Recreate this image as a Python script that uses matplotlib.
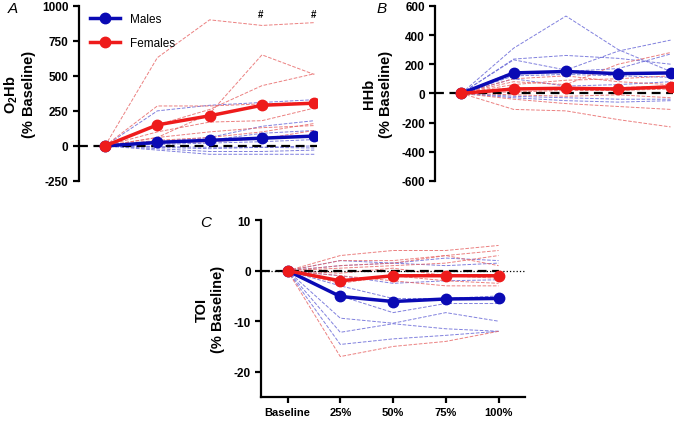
import matplotlib.pyplot as plt
import numpy as np

plt.rcParams['font.family'] = ['Liberation Sans', 'DejaVu Sans']
plt.rcParams['font.weight'] = 'bold'
plt.rcParams['axes.unicode_minus'] = False
plt.rcParams['mathtext.fontset'] = 'custom'
plt.rcParams['mathtext.bf'] = 'Liberation Sans:bold'

stages = ['Baseline', '25%', '50%', '75%', '100%']

# O2Hb (% baseline)
o2hb_male_mean = [0, 25, 40, 55, 70]
o2hb_female_mean = [0, 150, 215, 290, 305]
o2hb_male_ind = [
    [0, 250, 290, 310, 330],
    [0, 30, 60, 140, 180],
    [0, 20, 40, 90, 110],
    [0, 10, 20, 30, 45],
    [0, -5, -10, -10, -15],
    [0, -10, -20, -10, 0],
    [0, -20, -40, -40, -30],
    [0, -30, -60, -60, -60],
]
o2hb_female_ind = [
    [0, 630, 900, 860, 880],
    [0, 60, 230, 650, 510],
    [0, 150, 260, 430, 515],
    [0, 285, 285, 300, 310],
    [0, 100, 170, 180, 270],
    [0, 60, 100, 130, 145],
    [0, 40, 60, 100, 160],
    [0, 20, 30, 50, 110],
]

# HHb (% baseline)
hhb_male_mean = [0, 140, 150, 135, 140]
hhb_female_mean = [0, 30, 35, 30, 45]
hhb_male_ind = [
    [0, 310, 530, 300, 150],
    [0, 235, 260, 240, 200],
    [0, 230, 160, 290, 365],
    [0, 150, 150, 170, 270],
    [0, 120, 130, 120, 110],
    [0, 100, 50, 60, 80],
    [0, -20, -30, -40, -40],
    [0, -30, -50, -60, -50],
]
hhb_female_ind = [
    [0, -110, -120, -180, -230],
    [0, -40, -70, -90, -110],
    [0, 80, 60, 200, 280],
    [0, 60, 90, 100, 120],
    [0, 40, 30, 40, 50],
    [0, 10, 20, 20, 30],
    [0, -10, -20, -10, -30],
    [0, 100, 120, 80, 60],
]

# TOI (% baseline)
toi_male_mean = [0, -5.1, -6.1, -5.6, -5.5]
toi_female_mean = [0, -2.0, -1.0, -1.0, -1.0]
toi_male_ind = [
    [0, -14.6, -13.5, -12.8, -12.0],
    [0, -12.2, -10.5, -11.5, -12.0],
    [0, -9.4, -10.4, -8.3, -10.0],
    [0, -5.0, -8.3, -6.5, -6.5],
    [0, -3.0, -5.5, -5.5, -5.0],
    [0, 2.0, 1.5, 2.5, 2.0],
    [0, 1.0, 1.5, 1.0, 1.5],
    [0, -1.0, -2.5, -2.0, -1.8],
]
toi_female_ind = [
    [0, -17.0, -15.0, -14.0, -12.0],
    [0, 3.0, 4.0, 4.0, 5.0],
    [0, 2.0, 2.0, 3.0, 4.0],
    [0, 1.0, 1.5, 3.0, 1.0],
    [0, -1.0, -2.0, -3.0, -3.0],
    [0, -2.5, -1.0, -2.0, -2.5],
    [0, 0.5, 1.0, 1.5, 3.0],
    [0, -0.5, 0.5, -1.0, -1.5],
]

blue = '#0a0ab4'
red = '#ee1b1b'
x = np.arange(len(stages))

fig = plt.figure(figsize=(6.8, 4.27), dpi=100)
axA = fig.add_axes([0.116, 0.574, 0.35, 0.41])
axB = fig.add_axes([0.640, 0.574, 0.35, 0.41])
axC = fig.add_axes([0.384, 0.068, 0.388, 0.414])


def draw(ax, mind, find, mmean, fmean):
    for row in mind:
        ax.plot(x, row, '--', color='#6a6ad8', lw=0.7, alpha=0.85, zorder=2)
    for row in find:
        ax.plot(x, row, '--', color='#e86a6a', lw=0.7, alpha=0.85, zorder=2)
    ax.plot(x, mmean, '-o', color=blue, lw=2.5, ms=7.5, zorder=5, label='Males')
    ax.plot(x, fmean, '-o', color=red, lw=2.5, ms=7.5, zorder=6, label='Females')
    ax.spines['top'].set_visible(False)
    ax.spines['right'].set_visible(False)
    ax.spines['left'].set_linewidth(1.6)
    ax.tick_params(axis='y', direction='out', length=4, width=1.6, labelsize=8.5)
    for t in ax.get_yticklabels():
        t.set_fontweight('bold')


draw(axA, o2hb_male_ind, o2hb_female_ind, o2hb_male_mean, o2hb_female_mean)
axA.axhline(0, color='black', ls='--', lw=1.6, dashes=(4, 2.5), zorder=4)
axA.set_xlim(-0.5, 4.05)
axA.set_ylim(-250, 1000)
axA.set_yticks([-250, 0, 250, 500, 750, 1000])
axA.spines['bottom'].set_visible(False)
axA.set_xticks([])
axA.set_ylabel('O$_\\mathbf{2}$Hb\n(% Baseline)', fontsize=10.5, fontweight='bold', labelpad=4)
axA.text(2.98, 940, '#', ha='center', va='center', fontsize=7)
axA.text(3.98, 940, '#', ha='center', va='center', fontsize=7)
axA.legend(loc='upper left', frameon=False, bbox_to_anchor=(0.0, 1.02),
           handlelength=2.6, labelspacing=1.0, prop={'weight': 'normal', 'size': 8.5})
axA.text(-0.30, 0.99, 'A', transform=axA.transAxes, fontsize=11, style='italic',
         fontweight='normal', va='center')

draw(axB, hhb_male_ind, hhb_female_ind, hhb_male_mean, hhb_female_mean)
axB.axhline(0, color='black', ls='--', lw=1.6, dashes=(4, 2.5), zorder=4)
axB.set_xlim(-0.5, 4.05)
axB.set_ylim(-600, 600)
axB.set_yticks([-600, -400, -200, 0, 200, 400, 600])
axB.spines['bottom'].set_visible(False)
axB.set_xticks([])
axB.set_ylabel('HHb\n(% Baseline)', fontsize=10.5, fontweight='bold', labelpad=6)
axB.text(-0.245, 0.99, 'B', transform=axB.transAxes, fontsize=11, style='italic',
         fontweight='normal', va='center')

draw(axC, toi_male_ind, toi_female_ind, toi_male_mean, toi_female_mean)
axC.axhline(0, color='black', ls=':', lw=0.9, zorder=3)
axC.plot([-0.5, 4.0], [0, 0], color='black', ls='--', lw=1.6, dashes=(4, 2.5), zorder=4)
axC.set_xlim(-0.5, 4.5)
axC.set_ylim(-25, 10)
axC.set_yticks([-20, -10, 0, 10])
axC.spines['bottom'].set_linewidth(1.6)
axC.set_xticks(x)
axC.set_xticklabels(stages, fontsize=8, fontweight='bold')
axC.tick_params(axis='x', direction='out', length=4, width=1.6)
axC.set_ylabel('TOI\n(% Baseline)', fontsize=10.5, fontweight='bold', labelpad=6)
axC.text(-0.23, 0.99, 'C', transform=axC.transAxes, fontsize=11, style='italic',
         fontweight='normal', va='center')

fig.savefig('out.png', dpi=100)
